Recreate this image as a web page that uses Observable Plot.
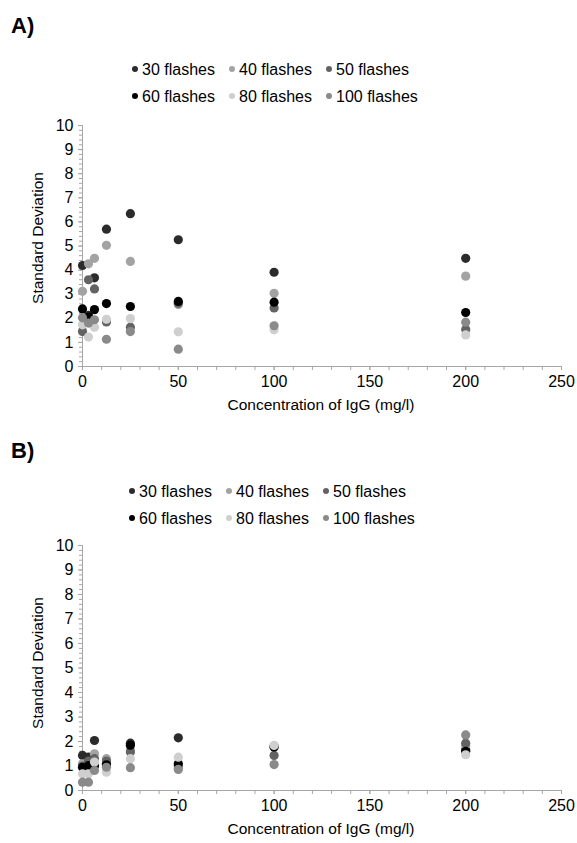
<!DOCTYPE html>
<html>
<head>
<meta charset="utf-8">
<script src="https://cdn.jsdelivr.net/npm/d3@7"></script>
<script src="https://cdn.jsdelivr.net/npm/@observablehq/plot@0.6"></script>
<style>
  html, body { margin: 0; padding: 0; background: #fff; }
  #wrap { position: relative; width: 577px; height: 843px; font-family: "Liberation Sans", Arial, sans-serif; color: #000; overflow: hidden; }
  .abs { position: absolute; white-space: nowrap; }
  .panel { font-weight: bold; font-size: 22px; }
  .leg { font-size: 16px; line-height: 18px; transform: translateY(-50%); }
  .mk { display: inline-block; width: 6px; height: 6px; border-radius: 50%; margin-right: 4px; vertical-align: 3px; }
  .ytitle { font-size: 15.5px; transform: translate(-50%, -50%) rotate(-90deg); }
  .xtitle { font-size: 15.5px; transform: translate(-50%, -50%); }
</style>
</head>
<body>
<div id="wrap"></div>
<script>
// ---------- data ----------
const concentrations = [0, 3.125, 6.25, 12.5, 25, 50, 100, 200];
const seriesNames = ["30 flashes", "40 flashes", "50 flashes", "60 flashes", "80 flashes", "100 flashes"];
const seriesColors = ["#2b2b2b", "#a3a3a3", "#636363", "#000000", "#cfcfcf", "#8a8a8a"];

// Panel A values (per series, aligned with concentrations)
const a30  = [4.19, 2.12, 3.68, 5.70, 6.34, 5.26, 3.91, 4.49];
const a40  = [3.12, 4.26, 4.49, 5.03, 4.36, 2.57, 3.04, 3.75];
const a50  = [1.45, 3.60, 3.22, 1.85, 1.63, 2.62, 2.43, 1.54];
const a60  = [2.39, 2.05, 2.36, 2.61, 2.49, 2.70, 2.67, 2.24];
const a80  = [1.73, 1.22, 1.63, 1.96, 1.99, 1.44, 1.52, 1.31];
const a100 = [2.02, 1.80, 1.94, 1.13, 1.45, 0.72, 1.69, 1.84];

// Panel B values
const b30  = [1.43, 1.36, 2.04, 1.10, 1.93, 2.15, 1.80, 1.66];
const b40  = [1.09, 0.90, 1.50, 1.30, 1.65, 0.90, 1.82, 1.84];
const b50  = [1.00, 1.20, 1.30, 1.20, 1.57, 1.00, 1.43, 1.93];
const b60  = [0.95, 1.02, 1.00, 1.05, 1.85, 1.09, 1.78, 1.60];
const b80  = [0.68, 0.68, 1.16, 0.75, 1.30, 1.36, 1.84, 1.46];
const b100 = [0.34, 0.34, 0.82, 0.95, 0.93, 0.86, 1.06, 2.27];

const xTicks = [0, 50, 100, 150, 200, 250];
const yTicks = [0, 1, 2, 3, 4, 5, 6, 7, 8, 9, 10];
const xTitle = "Concentration of IgG (mg/l)";
const yTitle = "Standard Deviation";

function flatten(arrs) {
  const out = [];
  arrs.forEach((vals, si) => vals.forEach((v, i) => out.push({series: seriesNames[si], conc: concentrations[i], sd: v})));
  return out;
}
const dataA = flatten([a30, a40, a50, a60, a80, a100]);
const dataB = flatten([b30, b40, b50, b60, b80, b100]);

const wrap = document.getElementById("wrap");
function addDiv(cls, text, left, top, extra) {
  const d = document.createElement("div");
  d.className = "abs " + cls;
  d.textContent = text;
  d.style.left = left + "px";
  d.style.top = top + "px";
  if (extra) Object.assign(d.style, extra);
  wrap.appendChild(d);
  return d;
}
function addLegend(row1y, row2y, xs) {
  seriesNames.forEach((name, i) => {
    const col = i % 3, row = Math.floor(i / 3);
    const d = document.createElement("div");
    d.className = "abs leg";
    d.style.left = xs[col] + "px";
    d.style.top = (row === 0 ? row1y : row2y) + "px";
    const m = document.createElement("span");
    m.className = "mk";
    m.style.background = seriesColors[i];
    d.appendChild(m);
    d.appendChild(document.createTextNode(name));
    wrap.appendChild(d);
  });
}

function makePlot(data, plotH) {
  const mt = 10, mb = 49;
  return Plot.plot({
    width: 577,
    height: mt + plotH + mb,
    marginLeft: 82,
    marginRight: 16,
    marginTop: mt,
    marginBottom: mb,
    style: {fontFamily: "'Liberation Sans', Arial, sans-serif", fontSize: "16px", color: "#000", background: "transparent", overflow: "visible"},
    x: {domain: [0, 250], label: null},
    y: {domain: [0, 10], label: null},
    color: {domain: seriesNames, range: seriesColors},
    marks: [
      Plot.axisX({ticks: d3.range(0, 251, 10), tickSize: 4, tickFormat: () => "", stroke: "#a6a6a6", label: null}),
      Plot.axisX({ticks: xTicks, tickSize: 4, tickPadding: 5, stroke: "#a6a6a6", label: null, fontSize: 16}),
      Plot.axisY({ticks: d3.range(0, 10.001, 0.2), tickSize: 3, tickFormat: () => "", stroke: "#a6a6a6", label: null}),
      Plot.axisY({ticks: yTicks, tickSize: 4, tickPadding: 5, stroke: "#a6a6a6", label: null, fontSize: 16}),
      Plot.ruleY([0], {stroke: "#a6a6a6"}),
      Plot.ruleX([0], {stroke: "#a6a6a6"}),
      Plot.dot(data, {x: "conc", y: "sd", fill: "series", r: 4.6})
    ]
  });
}

// ---------- Panel A ----------
addDiv("panel", "A)", 11, 13);
addLegend(70, 97, [132, 229, 326]);
const pA = makePlot(dataA, 241);
pA.style.position = "absolute";
pA.style.left = "0px";
pA.style.top = "115px";
wrap.appendChild(pA);
addDiv("ytitle", yTitle, 38, 238);
addDiv("xtitle", xTitle, 321, 405);

// ---------- Panel B ----------
addDiv("panel", "B)", 11, 438);
addLegend(492, 519, [129, 226, 323]);
const pB = makePlot(dataB, 245);
pB.style.position = "absolute";
pB.style.left = "0px";
pB.style.top = "535px";
wrap.appendChild(pB);
addDiv("ytitle", yTitle, 38, 663);
addDiv("xtitle", xTitle, 321, 829);
</script>
</body>
</html>
